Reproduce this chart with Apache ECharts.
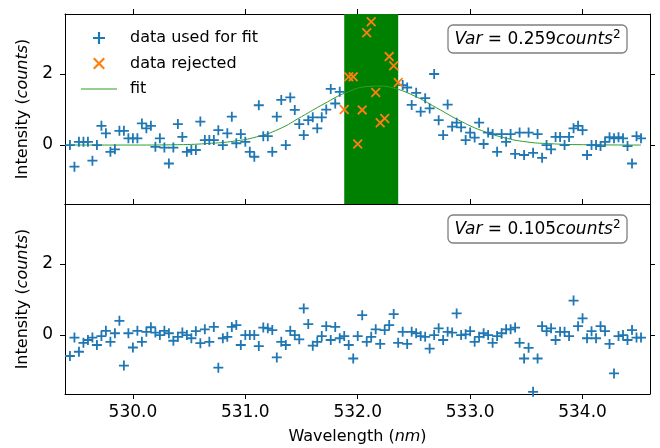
<!DOCTYPE html>
<html>
<head>
<meta charset="utf-8">
<title>Intensity vs Wavelength</title>
<script src="https://cdn.jsdelivr.net/npm/echarts@6.0.0/dist/echarts.min.js"></script>
<style>
html, body { margin: 0; padding: 0; background: #fff; }
#chart { width: 660px; height: 448px; }
</style>
</head>
<body>
<div id="chart"></div>
<script>
// wavelength of every sample (nm), same for both panels
var wavelength = [
    529.44, 529.48, 529.52, 529.56, 529.60, 529.64, 529.68, 529.72, 529.76, 529.80, 529.84, 529.88, 529.92, 529.96, 530.00, 530.04, 530.08, 530.12, 530.16, 530.20, 530.24, 530.28, 530.32, 530.36, 530.40,
    530.44, 530.48, 530.52, 530.56, 530.60, 530.64, 530.68, 530.72, 530.76, 530.80, 530.84, 530.88, 530.92, 530.96, 531.00, 531.04, 531.08, 531.12, 531.16, 531.20, 531.24, 531.28, 531.32, 531.36, 531.40,
    531.44, 531.48, 531.52, 531.56, 531.60, 531.64, 531.68, 531.72, 531.76, 531.80, 531.84, 531.88, 531.92, 531.96, 532.00, 532.04, 532.08, 532.12, 532.16, 532.20, 532.24, 532.28, 532.32, 532.36, 532.40,
    532.44, 532.48, 532.52, 532.56, 532.60, 532.64, 532.68, 532.72, 532.76, 532.80, 532.84, 532.88, 532.92, 532.96, 533.00, 533.04, 533.08, 533.12, 533.16, 533.20, 533.24, 533.28, 533.32, 533.36, 533.40,
    533.44, 533.48, 533.52, 533.56, 533.60, 533.64, 533.68, 533.72, 533.76, 533.80, 533.84, 533.88, 533.92, 533.96, 534.00, 534.04, 534.08, 534.12, 534.16, 534.20, 534.24, 534.28, 534.32, 534.36, 534.40,
    534.44, 534.48, 534.52
];

// upper panel: measured intensity (counts)
var intensityTop = [
    0.00, -0.61, 0.09, 0.09, 0.09, -0.44, 0.00, 0.54, 0.33, -0.19, -0.12, 0.40, 0.40, 0.19, 0.19, 0.19, 0.61, 0.47, 0.54, -0.05, 0.19, -0.07, -0.52, -0.07, 0.59,
    0.23, -0.19, -0.14, -0.14, 0.66, 0.14, 0.14, 0.14, 0.42, 0.00, 0.33, 0.80, 0.05, 0.31, 0.09, -0.19, -0.33, 1.12, 0.25, 0.25, -0.19, 0.80, 1.27, 0.00, 1.34,
    0.99, 0.59, 0.28, 0.70, 0.78, 0.47, 0.78, 1.00, 1.58, 1.17, 1.50, 1.00, 1.92, 1.92, 0.03, 0.99, 3.16, 3.47, 1.48, 0.63, 0.75, 2.49, 2.23, 1.76, 1.69,
    1.62, 1.13, 1.47, 0.94, 1.32, 1.03, 2.00, 0.70, 0.28, 1.14, 0.52, 0.63, 0.50, 0.14, 0.35, 0.21, 0.63, 0.03, 0.35, 0.31, -0.19, 0.31, 0.09, 0.31, -0.25,
    0.35, -0.28, 0.35, -0.22, 0.31, -0.36, 0.00, -0.12, 0.23, 0.23, 0.00, 0.23, 0.47, 0.54, 0.42, -0.28, 0.00, 0.00, -0.03, 0.09, 0.22, 0.19, 0.22, 0.19, -0.03,
    -0.52, 0.25, 0.19
];

// lower panel
var intensityBottom = [
    -0.59, -0.07, -0.47, -0.22, -0.14, -0.07, -0.28, -0.03, 0.12, -0.19, 0.05, 0.40, -0.86, 0.05, -0.35, 0.12, -0.19, 0.09, 0.22, 0.07, 0.00, 0.12, 0.05, -0.16, -0.05,
    0.07, 0.00, -0.09, 0.11, -0.23, 0.16, -0.19, 0.23, -0.92, -0.09, -0.05, 0.23, 0.28, -0.28, 0.00, 0.00, 0.00, -0.31, 0.21, 0.19, 0.14, -0.63, -0.19, -0.28, 0.12,
    0.00, -0.12, 0.75, 0.31, -0.30, -0.19, -0.03, 0.25, -0.14, 0.23, -0.09, -0.03, -0.28, -0.66, -0.03, 0.56, -0.19, -0.05, 0.16, -0.25, 0.14, 0.28, 0.59, -0.22, 0.09,
    -0.25, 0.09, 0.05, -0.03, -0.05, -0.38, 0.00, 0.19, -0.14, 0.09, 0.07, 0.61, 0.00, 0.02, 0.11, -0.19, -0.05, 0.05, 0.00, -0.22, -0.03, 0.05, 0.16, 0.16, 0.21,
    -0.22, -0.66, -0.36, -1.60, -0.66, 0.25, 0.11, 0.19, -0.14, 0.09, 0.09, -0.03, 0.97, 0.25, 0.47, -0.09, 0.11, -0.09, 0.25, 0.11, -0.25, -1.08, -0.03, 0.00, -0.14,
    0.14, -0.07, -0.07
];

// samples inside this window were rejected from the fit (nm)
var rejectWindow = [531.88, 532.36];

// fitted curve
var fitWavelength = [529.44, 530.0, 530.4, 530.7, 530.9, 531.1, 531.3, 531.5, 531.7, 531.9, 532.1, 532.2, 532.3, 532.5, 532.7, 532.9, 533.1, 533.3, 533.5, 533.7, 534.0, 534.52];
var fitIntensity  = [0.00, 0.00, 0.01, 0.05, 0.11, 0.23, 0.45, 0.80, 1.16, 1.48, 1.65, 1.66, 1.62, 1.39, 1.05, 0.70, 0.41, 0.21, 0.09, 0.04, 0.01, 0.00];

var xTicks = [530, 531, 532, 533, 534];
var yTicks = [0, 2];
var varText = ['0.259', '0.105'];

var FONT = 'DejaVu Sans';
var plusPath = 'path://M4.1,0H5.9V10H4.1Z M0,4.1H10V5.9H0Z';
var crossPath = 'path://M0,1.27L1.27,0L10,8.73L8.73,10Z M8.73,0L10,1.27L1.27,10L0,8.73Z';
var linePath = 'path://M0,0H36V1.2H0Z';

var used = [], rejected = [], lower = [];
for (var i = 0; i < wavelength.length; i++) {
    var w = wavelength[i];
    if (w >= rejectWindow[0] - 1e-6 && w <= rejectWindow[1] + 1e-6) {
        rejected.push([w, intensityTop[i]]);
    } else {
        used.push([w, intensityTop[i]]);
    }
    lower.push([w, intensityBottom[i]]);
}
var fitData = fitWavelength.map(function (w, k) { return [w, fitIntensity[k]]; });

var richText = {
    t: { fontSize: 16, fontFamily: FONT, color: '#000' },
    i: { fontSize: 16, fontFamily: FONT, fontStyle: 'italic', color: '#000' }
};

// 横轴 (ticks always point outwards)
function xAxis(grid, pos, opts) {
    return {
        type: 'value', gridIndex: grid, position: pos,
        min: 529.396, max: 534.6,
        splitLine: { show: false },
        axisLine: { show: true, onZero: false, lineStyle: { color: '#000', width: 1 } },
        axisTick: { show: opts.tick, length: 5, customValues: xTicks, lineStyle: { color: '#000' } },
        axisLabel: {
            show: !!opts.label, customValues: xTicks, margin: 10,
            color: '#000', fontSize: 17, fontFamily: FONT,
            formatter: function (v) { return v.toFixed(1); }
        },
        name: opts.label ? '{t|Wavelength (}{i|nm}{t|)}' : '',
        nameLocation: 'middle', nameGap: 35,
        nameTextStyle: { color: '#000', fontSize: 16, fontFamily: FONT, rich: richText }
    };
}

// 纵轴
function yAxis(grid, pos, opts) {
    return {
        type: 'value', gridIndex: grid, position: pos,
        min: -1.66, max: 3.69,
        splitLine: { show: false },
        axisLine: { show: true, onZero: false, lineStyle: { color: '#000', width: 1 } },
        axisTick: { show: true, length: 5, customValues: yTicks, lineStyle: { color: '#000' } },
        axisLabel: { show: !!opts.label, customValues: yTicks, margin: 12, color: '#000', fontSize: 17, fontFamily: FONT },
        name: opts.label ? '{t|Intensity (}{i|counts}{t|)}' : '',
        nameLocation: 'middle', nameGap: 33,
        nameTextStyle: { color: '#000', fontSize: 16, fontFamily: FONT, rich: richText }
    };
}

// variance box in the upper right corner of a panel
function varBox(top, value) {
    return [{
        type: 'rect',
        shape: { x: 448, y: top, width: 179, height: 28, r: 5 },
        style: { fill: '#fff', stroke: '#7f7f7f', lineWidth: 1.3 },
        z: 10
    }, {
        type: 'text',
        x: 537.5, y: top + 14.5,
        style: {
            text: '{i|Var} = ' + value + '{i|counts}{s|2}',
            align: 'center', verticalAlign: 'middle',
            fontSize: 17, fontFamily: FONT, fill: '#000',
            rich: {
                i: { fontSize: 17, fontFamily: FONT, fontStyle: 'italic', fill: '#000' },
                s: { fontSize: 12, fontFamily: FONT, fill: '#000', padding: [0, 0, 10, 0] }
            }
        },
        z: 11
    }];
}

var myChart = echarts.init(document.getElementById('chart'), null, { renderer: 'canvas' });

var option = {
    animation: false,
    backgroundColor: '#fff',
    grid: [
        { left: 65, top: 14, width: 585, height: 190, outerBoundsMode: 'none' },
        { left: 65, top: 204, width: 585, height: 190, outerBoundsMode: 'none' }
    ],
    xAxis: [
        xAxis(0, 'bottom', { tick: false }),
        xAxis(0, 'top', { tick: true }),
        xAxis(1, 'bottom', { tick: true, label: true }),
        xAxis(1, 'top', { tick: true })
    ],
    yAxis: [
        yAxis(0, 'left', { label: true }),
        yAxis(0, 'right', {}),
        yAxis(1, 'left', { label: true }),
        yAxis(1, 'right', {})
    ],
    legend: {
        orient: 'vertical', left: 76, top: 24,
        itemWidth: 36, itemHeight: 12, itemGap: 7.5,
        selectedMode: false,
        textStyle: { color: '#000', fontSize: 16, fontFamily: FONT, lineHeight: 18, padding: [0, 0, 0, 8] },
        data: [
            { name: 'data used for fit', icon: plusPath },
            { name: 'data rejected', icon: crossPath },
            { name: 'fit', icon: linePath }
        ]
    },
    graphic: varBox(25, varText[0]).concat(varBox(215, varText[1])),
    series: [
        {
            name: 'fit', type: 'line', xAxisIndex: 0, yAxisIndex: 0,
            data: fitData, smooth: true, showSymbol: false, symbol: 'none',
            lineStyle: { color: '#2ca02c', width: 1 },
            itemStyle: { color: '#2ca02c' },
            emphasis: { disabled: true },
            z: 2,
            markArea: {
                silent: true,
                itemStyle: { color: '#008000', opacity: 1 },
                data: [[{ xAxis: rejectWindow[0] }, { xAxis: rejectWindow[1] }]]
            }
        },
        {
            name: 'data used for fit', type: 'scatter', xAxisIndex: 0, yAxisIndex: 0,
            data: used, symbol: plusPath, symbolSize: 10,
            itemStyle: { color: '#1f77b4', opacity: 1 },
            emphasis: { disabled: true }, z: 3
        },
        {
            name: 'data rejected', type: 'scatter', xAxisIndex: 0, yAxisIndex: 0,
            data: rejected, symbol: crossPath, symbolSize: 10,
            itemStyle: { color: '#ff7f0e', opacity: 1 },
            emphasis: { disabled: true }, z: 4
        },
        {
            name: 'lower', type: 'scatter', xAxisIndex: 2, yAxisIndex: 2,
            data: lower, symbol: plusPath, symbolSize: 10,
            itemStyle: { color: '#1f77b4', opacity: 1 },
            emphasis: { disabled: true }, z: 3
        }
    ]
};

myChart.setOption(option);
</script>
</body>
</html>
